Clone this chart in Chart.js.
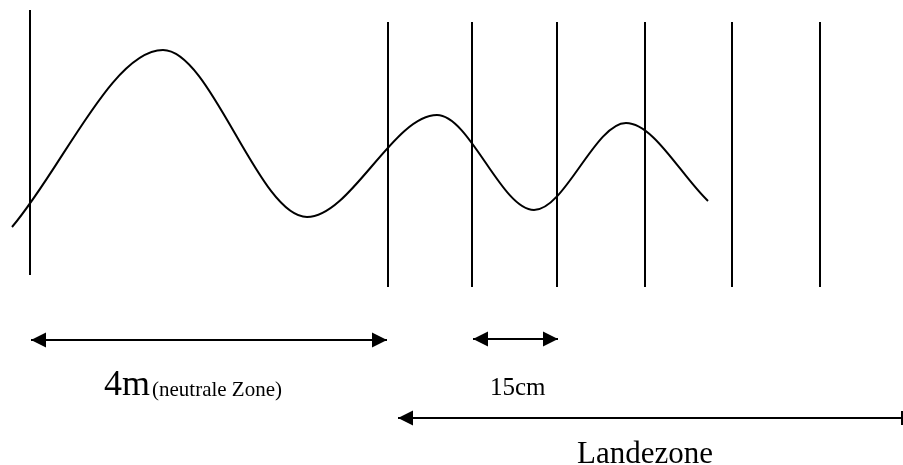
<!DOCTYPE html>
<html>
<head>
<meta charset="utf-8">
<script src="https://cdn.jsdelivr.net/npm/chart.js@4"></script>
<style>
  html, body { margin: 0; padding: 0; background: #fff; }
  #wrap { width: 903px; height: 465px; position: relative; }
</style>
</head>
<body>
<div id="wrap"><canvas id="zoneChart"></canvas></div>
<script>
// wave: end points, crests and troughs (y grows downward)
let waveX = [12, 163, 307, 437, 534, 626, 708];
let waveY = [227, 50, 217, 115, 210, 123, 201];

// vertical marker lines
let firstLineX = 30;
let firstLineTop = 10, firstLineBottom = 275;
let markerX = [388, 472, 557, 645, 732, 820];
let markerTop = 22, markerBottom = 287;

// dimension arrows
let arrowFrom = [31, 473, 398];
let arrowTo = [387, 558, 902];
let arrowY = [340, 339, 418];
let arrowStartHead = [true, true, true];
let arrowEndHead = [true, true, false];

// labels
let labelText = ['4m', '(neutrale Zone)', '15cm', 'Landezone'];
let labelX = [104, 152, 490, 577];
let labelY = [395, 396, 395, 463];
let labelSize = [36, 21, 25, 31];

let datasets = [];
datasets.push({
  data: waveX.map((x, i) => ({ x: x, y: waveY[i] })),
  borderColor: '#000',
  borderWidth: 2,
  pointRadius: 0,
  cubicInterpolationMode: 'monotone',
  fill: false
});
datasets.push({
  data: [{ x: firstLineX, y: firstLineTop }, { x: firstLineX, y: firstLineBottom }],
  borderColor: '#000', borderWidth: 2, pointRadius: 0
});
markerX.forEach(mx => {
  datasets.push({
    data: [{ x: mx, y: markerTop }, { x: mx, y: markerBottom }],
    borderColor: '#000', borderWidth: 2, pointRadius: 0
  });
});
arrowFrom.forEach((a, i) => {
  datasets.push({
    data: [{ x: a, y: arrowY[i] }, { x: arrowTo[i], y: arrowY[i] }],
    borderColor: '#000', borderWidth: 2, pointRadius: 0
  });
});

// arrow heads and labels drawn on top through the scales
const extras = {
  id: 'extras',
  afterDatasetsDraw(chart) {
    let ctx = chart.ctx;
    let xs = chart.scales.x, ys = chart.scales.y;
    ctx.save();
    ctx.fillStyle = '#000';
    ctx.strokeStyle = '#000';

    function head(px, py, dir) {
      ctx.beginPath();
      ctx.moveTo(px, py);
      ctx.lineTo(px + dir * 15, py - 7.5);
      ctx.lineTo(px + dir * 15, py + 7.5);
      ctx.closePath();
      ctx.fill();
    }

    arrowFrom.forEach((a, i) => {
      let x1 = xs.getPixelForValue(a);
      let x2 = xs.getPixelForValue(arrowTo[i]);
      let py = ys.getPixelForValue(arrowY[i]);
      if (arrowStartHead[i]) head(x1, py, 1);
      if (arrowEndHead[i]) head(x2, py, -1);
      else {
        ctx.lineWidth = 2;
        ctx.beginPath();
        ctx.moveTo(x2, py - 7);
        ctx.lineTo(x2, py + 7);
        ctx.stroke();
      }
    });

    ctx.textBaseline = 'alphabetic';
    ctx.textAlign = 'left';
    labelText.forEach((t, i) => {
      ctx.font = labelSize[i] + 'px "Liberation Serif", "Times New Roman", serif';
      ctx.fillText(t, xs.getPixelForValue(labelX[i]), ys.getPixelForValue(labelY[i]));
    });
    ctx.restore();
  }
};

new Chart(document.getElementById('zoneChart'), {
  type: 'line',
  data: { datasets: datasets },
  options: {
    responsive: true,
    maintainAspectRatio: false,
    animation: false,
    layout: { padding: 0 },
    plugins: { legend: { display: false }, tooltip: { enabled: false } },
    scales: {
      x: { type: 'linear', min: 0, max: 903, display: false },
      y: { type: 'linear', min: 0, max: 465, reverse: true, display: false }
    }
  },
  plugins: [extras]
});
</script>
</body>
</html>
